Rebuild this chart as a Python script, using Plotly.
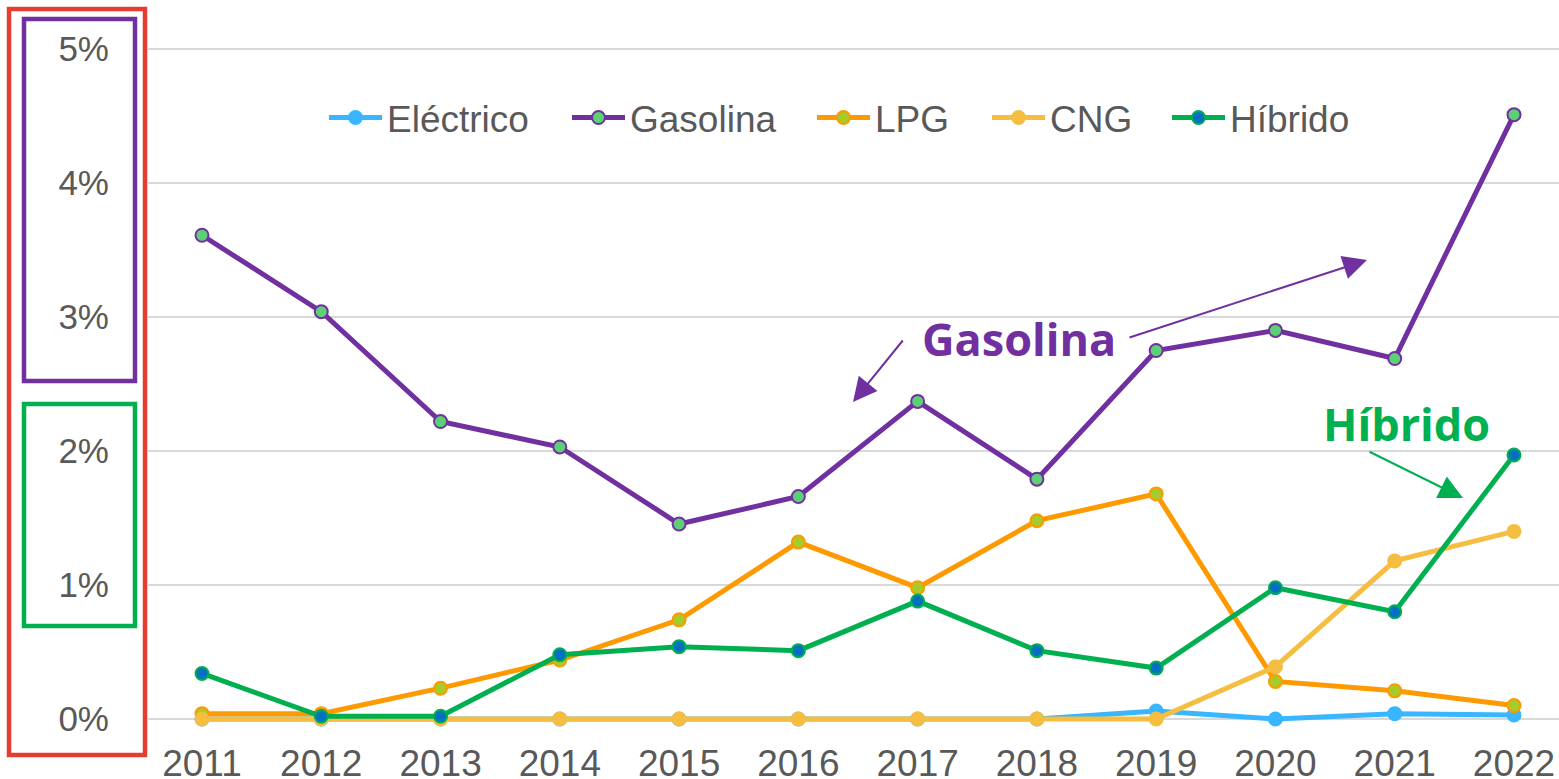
import plotly.graph_objects as go

years = [2011, 2012, 2013, 2014, 2015, 2016, 2017, 2018, 2019, 2020, 2021, 2022]
electrico = [0, 0, 0, 0, 0, 0, 0, 0, 0.06, 0.0, 0.04, 0.03]
gasolina = [3.61, 3.04, 2.22, 2.03, 1.455, 1.66, 2.37, 1.79, 2.75, 2.90, 2.69, 4.51]
lpg = [0.04, 0.04, 0.23, 0.44, 0.74, 1.32, 0.98, 1.48, 1.68, 0.28, 0.21, 0.10]
cng = [0, 0, 0, 0, 0, 0, 0, 0, 0, 0.39, 1.18, 1.40]
hibrido = [0.34, 0.02, 0.02, 0.48, 0.54, 0.51, 0.88, 0.51, 0.38, 0.98, 0.80, 1.97]
y_ticks = [0, 1, 2, 3, 4, 5]

W, H = 1559, 779
ML, MR, MT, MB = 148, 0, 40, 45
PW, PH = W - ML - MR, H - MT - MB

# pixel -> paper helpers (layout only)
def xp(px):
    return (px - ML) / PW

def yp(py):
    return (H - MB - py) / PH

# data scale: 2011 at px 202, 2022 at px 1514; 0% at py 719, 5% at py 49
ux = (1514 - 202) / 11.0
uy = (719 - 49) / 5.0
xmin = 2011 - (202 - ML) / ux
xmax = 2022 + (W - MR - 1514) / ux
ymin = -((H - MB) - 719) / uy
ymax = 5 + (49 - MT) / uy

def dx(px):
    return 2011 + (px - 202) / ux

def dy(py):
    return (719 - py) / uy

series = [
    ("Eléctrico", electrico, "#38B6FF", "#38B6FF", "#38B6FF"),
    ("Gasolina", gasolina, "#7030A0", "#5DCF74", "#7030A0"),
    ("LPG", lpg, "#FF9900", "#A5CC28", "#FF9900"),
    ("CNG", cng, "#F5BE41", "#F5BE41", "#F5BE41"),
    ("Híbrido", hibrido, "#00B050", "#0070C0", "#00B050"),
]
legend_x_px = [324, 567, 812, 987, 1167]

legend_font = dict(family="Arial, Liberation Sans, sans-serif", size=37, color="#595959")
xtick_font = dict(family="Arial, Liberation Sans, sans-serif", size=37, color="#595959")
ytick_font = dict(family="Arial, Liberation Sans, sans-serif", size=35, color="#595959")

fig = go.Figure()
legend_layouts = {}
for i, (name, vals, lc, mfill, mline) in enumerate(series):
    lname = "legend" if i == 0 else f"legend{i + 1}"
    fig.add_trace(go.Scatter(
        x=years, y=vals, name=name, mode="lines+markers",
        line=dict(color=lc, width=5),
        marker=dict(size=13, color=mfill, line=dict(color=mline, width=2)),
        cliponaxis=False, legend=lname,
    ))
    legend_layouts[lname] = dict(
        orientation="h", x=xp(legend_x_px[i]), y=yp(118),
        xanchor="left", yanchor="middle", font=legend_font,
        itemwidth=53, bgcolor="rgba(0,0,0,0)",
    )

fig.update_layout(
    width=W, height=H,
    margin=dict(l=ML, r=MR, t=MT, b=MB, autoexpand=False),
    paper_bgcolor="white", plot_bgcolor="white",
    showlegend=True,
    xaxis=dict(
        range=[xmin, xmax], tickmode="array", tickvals=years,
        ticktext=[str(y) for y in years], showgrid=False, zeroline=False,
        showline=False, tickfont=xtick_font, ticks="", ticklabelstandoff=4,
        automargin=False,
    ),
    yaxis=dict(
        range=[ymin, ymax], tickmode="array", tickvals=y_ticks,
        ticktext=[f"{v}%" for v in y_ticks], showgrid=True, gridcolor="#D9D9D9",
        gridwidth=2, zeroline=False, showline=False, tickfont=ytick_font,
        ticks="", ticklabelstandoff=38, automargin=False,
    ),
    **legend_layouts,
)

# Frames around the y-axis labels
frames = [
    (9, 145, 9, 755, "#E53E30"),
    (24, 135, 19, 381, "#7030A0"),
    (24, 135, 404, 626, "#00B050"),
]
for x0, x1, y0, y1, c in frames:
    fig.add_shape(type="rect", xref="paper", yref="paper",
                  x0=xp(x0), x1=xp(x1), y0=yp(y1), y1=yp(y0),
                  line=dict(color=c, width=4.5), fillcolor="rgba(0,0,0,0)", layer="above")

ann_font = "Open Sans, DejaVu Sans, sans-serif"
fig.add_annotation(x=dx(1019), y=dy(338), xref="x", yref="y", text="<b>Gasolina</b>",
                   showarrow=False, font=dict(family=ann_font, size=45, color="#7030A0"))
fig.add_annotation(x=dx(1406), y=dy(423), xref="x", yref="y", text="<b>Híbrido</b>",
                   showarrow=False, font=dict(family=ann_font, size=45, color="#00B050"))

arrows = [
    ((1128, 338), (1367, 260), "#7030A0"),
    ((904, 339), (853, 402), "#7030A0"),
    ((1368, 451), (1463, 498), "#00B050"),
]
for (tx, ty), (hx, hy), c in arrows:
    fig.add_annotation(x=dx(hx), y=dy(hy), xref="x", yref="y",
                       ax=dx(tx), ay=dy(ty), axref="x", ayref="y",
                       text="", showarrow=True, arrowhead=2, arrowsize=2.4,
                       arrowwidth=2, arrowcolor=c)

fig.write_html("out.html", config={"displayModeBar": False},
               post_script="document.body.style.margin='0px';")
